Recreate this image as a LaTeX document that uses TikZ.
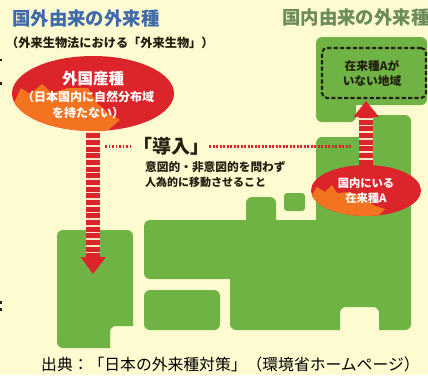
\documentclass[tikz,border=0pt]{standalone}
\usepackage{fontspec}
\setmainfont{Noto Sans CJK JP}
\newcommand\jpb{\bfseries}
\usetikzlibrary{shapes.geometric,calc}
\definecolor{bgc}{HTML}{FFFBD0}
\definecolor{greenc}{HTML}{6FB345}
\definecolor{redc}{HTML}{DC242B}
\definecolor{orangec}{HTML}{F47321}
\definecolor{gapc}{HTML}{FDE3C8}
\definecolor{bluet}{HTML}{3F69A9}
\definecolor{greent}{HTML}{6B8C5A}
\definecolor{inkc}{HTML}{231F10}
\tikzset{
  land/.style={fill=greenc,draw=none},
  oval/.style={shape=ellipse,fill=redc,draw=none,inner sep=0pt},
  flame/.style={fill=orangec,draw=none},
  shaft/.style={line width=14pt,redc,dash pattern=on 5pt off 1.67pt},
  shaftgap/.style={line width=14pt,gapc},
  tip/.style={fill=redc,draw=none},
  dots/.style={redc,line width=2.2pt,dash pattern=on 1.9pt off 1.6pt},
  txt/.style={inner sep=0pt,align=center},
  wtxt/.style={txt,white,font=\jpb\fontsize{11.3}{15.2}\selectfont},
  dtxt/.style={txt,inkc,font=\jpb\fontsize{11.7}{15.5}\selectfont},
}
\begin{document}
\begin{tikzpicture}[x=1pt,y=-1pt]
\useasboundingbox (0,0) rectangle (428,375);
\fill[bgc] (0,0) rectangle (428,375);
% clipped fragments on the left edge
\fill[inkc] (0,58.5) rectangle (1.5,61);
\fill[inkc] (0,82) rectangle (2,85);
\fill[inkc] (0,301) rectangle (2,303.5);
\fill[inkc] (0,308) rectangle (2,310.5);
% land
\fill[land] (57,290) [rounded corners=6pt] -- (57,230) -- (133,230) [sharp corners] -- (133,326) [rounded corners=6pt] -- (110,326) [sharp corners] -- (110,348) [rounded corners=6pt] -- (57,348) -- cycle;
\fill[land,rounded corners=6pt] (144,290) rectangle (220,330);
\fill[land,rounded corners=3pt] (284,193) rectangle (305,211);
\fill[land] (144,250) [rounded corners=6pt] -- (144,220) [sharp corners] -- (246,220) [rounded corners=6pt] -- (246,197) -- (276,197) [sharp corners] -- (276,220) -- (316,220) [rounded corners=6pt] -- (316,137) [sharp corners] -- (367,137) -- (367,115) [rounded corners=6pt] -- (411,115) -- (411,330) [sharp corners] -- (379,330) [rounded corners=6pt] -- (379,307) -- (340,307) [sharp corners] -- (340,330) [rounded corners=6pt] -- (230,330) [sharp corners] -- (230,279) [rounded corners=6pt] -- (144,279) -- cycle;
\fill[land] (340,37) [rounded corners=6pt] -- (427,37) -- (427,105) [sharp corners] -- (356,105) [rounded corners=6pt] -- (356,122) -- (316,122) -- (316,37) -- cycle;
% dashed region
\node[draw=inkc,line width=2.1pt,dash pattern=on 4.2pt off 2.2pt,rounded corners=5pt,minimum width=104pt,minimum height=50pt,inner sep=0pt] (area) at (374,73) {};
\node[dtxt] (areatxt) at (372,73.5) {在来種Aが\\いない地域};
% red ovals
\node[oval,minimum width=162pt,minimum height=75pt] (src) at (93,93.5) {};
\begin{scope}
\clip (93,93.5) ellipse [x radius=81,y radius=37.5];
\fill[flame] (10,110) -- (14,103) -- (21,88) -- (30,94) -- (42,84) -- (52,93) -- (68,88) -- (88,88) -- (97,103) -- (107,112) -- (120,120) -- (105,133) -- (10,133) -- cycle;
\end{scope}
\node[oval,minimum width=110pt,minimum height=51pt] (loc) at (366,190.5) {};
\begin{scope}
\clip (366,190.5) ellipse [x radius=55,y radius=25.5];
\fill[flame] (310,198) -- (312,195) -- (317,187) -- (325,192) -- (332,185) -- (337,193) -- (350,192) -- (365,198) -- (373,205) -- (385,209) -- (376,218) -- (310,218) -- cycle;
\end{scope}
% arrows
\coordinate (downend) at (93,257);
\coordinate (downtip) at (93,274);
\coordinate (upend) at (366,117);
\coordinate (uptip) at (366,101);
\draw[shaftgap] (src.south) -- (downend);
\draw[shaft] ($(src.south)+(0,2)$) -- (downend);
\fill[tip] (80.5,257) -- (106,257) -- (downtip) -- cycle;
\draw[shaftgap] (loc.north) -- (upend);
\draw[shaft] (loc.north) -- (upend);
\fill[tip] (353.5,117) -- (379,117) -- (uptip) -- cycle;
% dotted lead
\node[txt,inkc,minimum width=66pt,font=\jpb\fontsize{19}{19}\selectfont] (intro) at (171,146) {「導入」};
\coordinate (dl) at (105,146.5);
\coordinate (dr) at (352,146.5);
\draw[dots] (dl) -- (intro.west |- dl);
\draw[dots] (intro.east |- dr) -- (dr);
% texts
\node[txt,bluet,anchor=west,font=\jpb\fontsize{18.4}{18.4}\selectfont] (t1) at (12,19) {国外由来の外来種};
\node[txt,greent,anchor=west,font=\jpb\fontsize{18.4}{18.4}\selectfont] (t2) at (282,18) {国内由来の外来種};
\node[txt,inkc,anchor=west,font=\jpb\fontsize{12.2}{12.2}\selectfont] (t1s) at (6,43) {（外来生物法における「外来生物」）};
\node[txt,white,font=\jpb\fontsize{15.5}{15.5}\selectfont] (srct) at (93,79) {外国産種};
\node[wtxt,font=\jpb\fontsize{12}{15.2}\selectfont] (srcs) at (88,105) {（日本国内に自然分布域\\を持たない）};
\node[wtxt] (loct) at (366,191) {国内にいる\\在来種A};
\node[dtxt,anchor=north west,align=left] (note) at (145,161) {意図的・非意図的を問わず\\{\fontsize{11}{15.5}\selectfont 人為的に移動させること}};
\node[txt,black,anchor=west,font=\fontsize{15.8}{15.8}\selectfont] (cite) at (41,364) {出典：「日本の外来種対策」（環境省ホームページ）};
\end{tikzpicture}
\end{document}
